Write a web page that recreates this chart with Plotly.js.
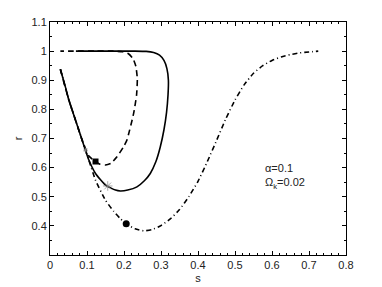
<!DOCTYPE html>
<html>
<head>
<meta charset="utf-8">
<script src="https://cdn.plot.ly/plotly-3.0.1.min.js"></script>
<style>html,body{margin:0;padding:0;background:#fff;}#chart{width:382px;height:287px;}</style>
</head>
<body>
<div id="chart"></div>
<script>
// Solid curve
var solidS = [0.028,0.040,0.051,0.069,0.087,0.105,0.123,0.150,0.177,0.190,0.210,0.235,0.255,0.271,0.286,0.298,0.308,0.315,0.319,0.320,0.316,0.308,0.296,0.280,0.260,0.230,0.150,0.070];
var solidR = [0.938,0.885,0.832,0.763,0.694,0.626,0.580,0.540,0.523,0.520,0.523,0.534,0.555,0.580,0.620,0.671,0.730,0.790,0.850,0.900,0.940,0.968,0.986,0.995,0.999,1.000,1.000,1.000];
// Dashed curve
var dashS = [0.028,0.051,0.069,0.087,0.105,0.123,0.135,0.150,0.165,0.181,0.199,0.208,0.226,0.234,0.236,0.232,0.224,0.212,0.196,0.170,0.120,0.028];
var dashR = [0.938,0.832,0.763,0.694,0.640,0.621,0.612,0.609,0.615,0.637,0.672,0.695,0.786,0.850,0.905,0.948,0.975,0.991,0.998,1.000,1.000,1.000];
// Dash-dot curve
var ddS = [0.028,0.051,0.069,0.087,0.105,0.123,0.150,0.172,0.190,0.206,0.230,0.253,0.275,0.300,0.325,0.350,0.375,0.400,0.425,0.450,0.475,0.500,0.525,0.550,0.575,0.600,0.625,0.650,0.675,0.700,0.725];
var ddR = [0.938,0.832,0.763,0.694,0.626,0.557,0.488,0.450,0.425,0.407,0.390,0.383,0.387,0.401,0.424,0.456,0.500,0.553,0.620,0.693,0.767,0.832,0.885,0.924,0.950,0.968,0.980,0.988,0.994,0.997,1.000];
// Marked points
var squareS = [0.123], squareR = [0.621];
var circleS = [0.206], circleR = [0.407];
var starS = [0.156, 0.096], starR = [0.537, 0.660];
var xTicks = [0,0.1,0.2,0.3,0.4,0.5,0.6,0.7,0.8];
var xTickText = ['0','0.1','0.2','0.3','0.4','0.5','0.6','0.7','0.8'];
var yTicks = [0.4,0.5,0.6,0.7,0.8,0.9,1.0,1.1];
var yTickText = ['0.4','0.5','0.6','0.7','0.8','0.9','1','1.1'];

var traces = [
  {x: solidS, y: solidR, mode: 'lines', line: {color: '#000', width: 1.6, shape: 'spline', smoothing: 0.5}, hoverinfo: 'none'},
  {x: dashS, y: dashR, mode: 'lines', line: {color: '#000', width: 1.6, dash: '6px,4px', shape: 'spline', smoothing: 0.5}, hoverinfo: 'none'},
  {x: ddS, y: ddR, mode: 'lines', line: {color: '#000', width: 1.6, dash: '5px,3px,1px,3px', shape: 'spline', smoothing: 0.5}, hoverinfo: 'none'},
  {x: squareS, y: squareR, mode: 'markers', marker: {symbol: 'square', size: 6, color: '#000'}, hoverinfo: 'none'},
  {x: circleS, y: circleR, mode: 'markers', marker: {symbol: 'circle', size: 7, color: '#000'}, hoverinfo: 'none'},
  {x: starS, y: starR, mode: 'markers', marker: {symbol: 'asterisk-open', size: [8,4], color: '#888', line: {color: '#888', width: 1}}, hoverinfo: 'none'}
];

var layout = {
  width: 382, height: 287,
  margin: {l: 49.5, r: 36, t: 22, b: 32},
  showlegend: false,
  paper_bgcolor: '#fff', plot_bgcolor: '#fff',
  font: {family: 'Liberation Sans, Arial, sans-serif', size: 11, color: '#222'},
  xaxis: {
    range: [0, 0.8], tickvals: xTicks, ticktext: xTickText,
    ticks: 'inside', ticklen: 4, tickcolor: '#000', tickwidth: 1,
    minor: {dtick: 0.02, ticks: 'inside', ticklen: 2, tickcolor: '#000'},
    showline: true, linecolor: '#000', linewidth: 1, mirror: 'allticks',
    showgrid: false, zeroline: false,
    title: {text: 's', standoff: 4, font: {size: 11}}
  },
  yaxis: {
    range: [0.3, 1.1], tickvals: yTicks, ticktext: yTickText,
    ticks: 'inside', ticklen: 4, tickcolor: '#000', tickwidth: 1,
    minor: {dtick: 0.05, ticks: 'inside', ticklen: 2, tickcolor: '#000'},
    showline: true, linecolor: '#000', linewidth: 1, mirror: 'allticks',
    showgrid: false, zeroline: false,
    title: {text: 'r', standoff: 6, font: {size: 11}}
  },
  annotations: [{
    xref: 'x', yref: 'y', x: 0.576, y: 0.571, xanchor: 'left', yanchor: 'middle',
    text: 'α=0.1<br>Ω<sub>k</sub>=0.02', showarrow: false, align: 'left',
    font: {size: 11, color: '#222'}
  }]
};

Plotly.newPlot('chart', traces, layout, {staticPlot: true, displayModeBar: false});
</script>
</body>
</html>
